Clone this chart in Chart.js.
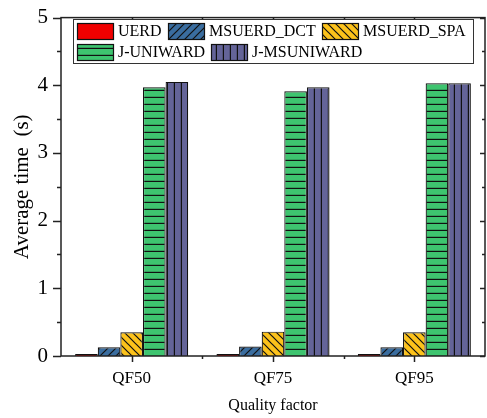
<!DOCTYPE html>
<html>
<head>
<meta charset="utf-8">
<script src="https://cdn.jsdelivr.net/npm/chart.js@4/dist/chart.umd.min.js"></script>
<style>
  html, body { margin: 0; padding: 0; background: #fff; }
  canvas { display: block; }
</style>
</head>
<body>
<canvas id="c" width="487" height="418"></canvas>
<script>
// ---- data ----
const categories = ['QF50', 'QF75', 'QF95'];
const seriesNames = ['UERD', 'MSUERD_DCT', 'MSUERD_SPA', 'J-UNIWARD', 'J-MSUNIWARD'];
const uerd       = [0.03, 0.03, 0.03];
const msuerdDct  = [0.13, 0.14, 0.13];
const msuerdSpa  = [0.35, 0.36, 0.35];
const jUniward   = [3.97, 3.91, 4.03];
const jMsuniward = [4.05, 3.97, 4.03];
const yTickValues = [0, 1, 2, 3, 4, 5];

const FONT = '"Liberation Serif", "Times New Roman", serif';
const canvas = document.getElementById('c');
const ctx = canvas.getContext('2d');

function makePattern(bg, kind) {
  const s = (kind === 'h' || kind === 'v') ? 7 : 8;
  const c = document.createElement('canvas');
  c.width = s; c.height = s;
  const g = c.getContext('2d');
  g.fillStyle = bg; g.fillRect(0, 0, s, s);
  if (kind !== 'none') {
    g.strokeStyle = '#111'; g.lineWidth = 1.2;
    g.beginPath();
    if (kind === '/') {
      g.moveTo(-2, s + 2); g.lineTo(s + 2, -2);
      g.moveTo(-2, 2); g.lineTo(2, -2);
      g.moveTo(s - 2, s + 2); g.lineTo(s + 2, s - 2);
    } else if (kind === '\\') {
      g.moveTo(-2, -2); g.lineTo(s + 2, s + 2);
      g.moveTo(s - 2, -2); g.lineTo(s + 2, 2);
      g.moveTo(-2, s - 2); g.lineTo(2, s + 2);
    } else if (kind === 'h') {
      g.moveTo(0, s - 0.6); g.lineTo(s, s - 0.6);
    } else if (kind === 'v') {
      g.moveTo(s - 0.6, 0); g.lineTo(s - 0.6, s);
    }
    g.stroke();
  }
  return ctx.createPattern(c, 'repeat');
}

const fills = [
  '#f00000',
  makePattern('#3a6d9f', '/'),
  makePattern('#fcc21b', '\\'),
  makePattern('#3ec46f', 'h'),
  makePattern('#646498', 'v')
];
const seriesData = [uerd, msuerdDct, msuerdSpa, jUniward, jMsuniward];

const datasets = seriesNames.map((name, i) => ({
  label: name,
  data: seriesData[i],
  backgroundColor: fills[i],
  borderColor: '#111',
  borderWidth: 1.2,
  categoryPercentage: 0.8,
  barPercentage: 1.0
}));

const framePlugin = {
  id: 'frame',
  afterDraw(chart) {
    const c = chart.ctx;
    const a = chart.chartArea;
    const xs = chart.scales.x, ys = chart.scales.y;
    c.save();
    c.strokeStyle = '#222';
    c.lineWidth = 1.5;
    // frame
    c.strokeRect(a.left, a.top, a.right - a.left, a.bottom - a.top);
    c.beginPath();
    // y ticks (major & minor)
    for (let v = ys.min; v <= ys.max + 1e-9; v += 0.5) {
      const y = Math.round(ys.getPixelForValue(v)) + 0.5;
      const major = Math.abs(v - Math.round(v)) < 1e-9;
      const lenL = major ? 8 : 4;
      const lenR = major ? 5 : 3;
      c.moveTo(a.left, y); c.lineTo(a.left - lenL, y);
      c.moveTo(a.right, y); c.lineTo(a.right - lenR, y);
    }
    // x ticks at centers and boundaries
    const n = categories.length;
    for (let i = 0; i < n; i++) {
      const x = Math.round(xs.getPixelForValue(i)) + 0.5;
      c.moveTo(x, a.bottom); c.lineTo(x, a.bottom + 6);
      c.moveTo(x, a.top); c.lineTo(x, a.top + 4);
      if (i < n - 1) {
        const xb = Math.round((xs.getPixelForValue(i) + xs.getPixelForValue(i + 1)) / 2) + 0.5;
        c.moveTo(xb, a.bottom); c.lineTo(xb, a.bottom + 3);
        c.moveTo(xb, a.top); c.lineTo(xb, a.top + 4);
      }
    }
    c.stroke();

    // legend
    const lx = 73, ly = 19, lw = 400, lh = 44;
    c.fillStyle = '#fff';
    c.fillRect(lx, ly, lw, lh);
    c.lineWidth = 1;
    c.strokeStyle = '#333';
    c.strokeRect(lx + 0.5, ly + 0.5, lw, lh);
    const pos = [[77, 23], [168, 23], [322, 23], [77, 44], [211, 44]];
    c.font = '16px ' + FONT;
    c.textBaseline = 'middle';
    c.textAlign = 'left';
    chart.data.datasets.forEach((ds, i) => {
      const [sx, sy] = pos[i];
      c.fillStyle = ds.backgroundColor;
      c.fillRect(sx, sy, 37, 17);
      c.strokeStyle = '#111';
      c.lineWidth = 1.2;
      c.strokeRect(sx + 0.5, sy + 0.5, 36, 16);
      c.fillStyle = '#000';
      c.fillText(ds.label, sx + 41, sy + 9);
    });
    c.restore();
  }
};

new Chart(ctx, {
  type: 'bar',
  data: { labels: categories, datasets },
  options: {
    responsive: false,
    animation: false,
    devicePixelRatio: 1,
    layout: { padding: { top: 14, right: 2, left: 0, bottom: 0 } },
    plugins: { legend: { display: false }, tooltip: { enabled: false }, title: { display: false } },
    scales: {
      x: {
        offset: true,
        grid: { display: false, drawTicks: true, tickLength: 8 },
        border: { display: false },
        ticks: { color: '#000', font: { family: FONT, size: 17 }, padding: 4 },
        title: { display: true, text: 'Quality factor', color: '#000', font: { family: FONT, size: 16 }, padding: { top: 0, bottom: 3 } },
        afterFit(s) { s.height = 62; }
      },
      y: {
        min: 0, max: 5,
        grid: { display: false, drawTicks: true, tickLength: 8 },
        border: { display: false },
        afterBuildTicks(s) { s.ticks = yTickValues.map(v => ({ value: v })); },
        ticks: { color: '#000', font: { family: FONT, size: 21 }, padding: 5 },
        title: { display: true, text: 'Average time  (s)', color: '#000', font: { family: FONT, size: 21 }, padding: { top: 10, bottom: 0 } },
        afterFit(s) { s.width = 61; }
      }
    }
  },
  plugins: [framePlugin]
});
</script>
</body>
</html>
